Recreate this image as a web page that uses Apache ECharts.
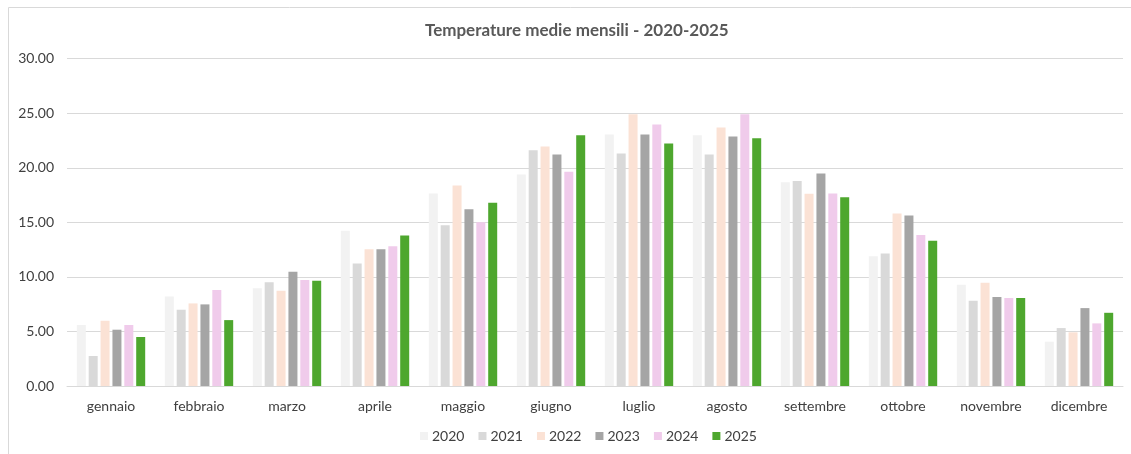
<!DOCTYPE html>
<html>
<head>
<meta charset="utf-8">
<script src="https://cdn.jsdelivr.net/npm/echarts@6/dist/echarts.min.js"></script>
<style>html,body{margin:0;padding:0;background:#fff;}#c{width:1131px;height:454px;}</style>
</head>
<body>
<div id="c"></div>
<script>
const months = ['gennaio','febbraio','marzo','aprile','maggio','giugno','luglio','agosto','settembre','ottobre','novembre','dicembre'];
const years = ['2020','2021','2022','2023','2024','2025'];
const y2020 = [5.59, 8.21, 8.97, 14.22, 17.64, 19.38, 23.05, 22.99, 18.68, 11.90, 9.28, 4.06];
const y2021 = [2.75, 6.99, 9.52, 11.23, 14.74, 21.61, 21.31, 21.22, 18.80, 12.15, 7.81, 5.31];
const y2022 = [5.98, 7.57, 8.73, 12.54, 18.38, 21.95, 24.90, 23.69, 17.61, 15.81, 9.46, 4.92];
const y2023 = [5.16, 7.48, 10.47, 12.54, 16.21, 21.22, 23.05, 22.86, 19.48, 15.63, 8.15, 7.14];
const y2024 = [5.59, 8.79, 9.71, 12.82, 15.02, 19.63, 23.96, 24.90, 17.64, 13.83, 8.06, 5.74];
const y2025 = [4.49, 6.04, 9.65, 13.80, 16.79, 22.99, 22.22, 22.71, 17.31, 13.31, 8.06, 6.71];
const seriesData = [y2020, y2021, y2022, y2023, y2024, y2025];
const colors = ['#f2f2f2', '#d9d9d9', '#fbe2d5', '#a5a5a5', '#f0cbeb', '#4ea72e'];
const FONT = 'Lato, "Liberation Sans", sans-serif';

const chart = echarts.init(document.getElementById('c'), null, {renderer: 'canvas'});
chart.setOption({
  animation: false,
  color: colors,
  textStyle: {fontFamily: FONT},
  graphic: [{
    type: 'rect', left: 8, top: 7, z: -10, silent: true,
    shape: {width: 1140, height: 460},
    style: {fill: 'transparent', stroke: '#d9d9d9', lineWidth: 1}
  }],
  title: {
    text: 'Temperature medie mensili - 2020-2025',
    left: 420, top: 17,
    textStyle: {fontFamily: FONT, fontSize: 17, fontWeight: 'bold', color: '#595959'}
  },
  legend: {
    bottom: 6, left: 415,
    itemWidth: 8, itemHeight: 8, itemGap: 14,
    icon: 'rect',
    textStyle: {fontFamily: FONT, fontSize: 14, color: '#404040', padding: [0, 0, 0, -1]},
    data: years
  },
  grid: {left: 67, right: 8, top: 58.7, bottom: 68, containLabel: false},
  xAxis: {
    type: 'category', data: months,
    axisLine: {lineStyle: {color: '#d9d9d9'}},
    axisTick: {show: false},
    axisLabel: {fontFamily: FONT, fontSize: 14, color: '#404040', margin: 13}
  },
  yAxis: {
    type: 'value', min: 0, max: 30, interval: 5,
    axisLine: {show: false}, axisTick: {show: false},
    splitLine: {lineStyle: {color: '#d9d9d9'}},
    axisLabel: {fontFamily: FONT, fontSize: 14, color: '#404040', margin: 13,
      formatter: v => v.toFixed(2)}
  },
  series: years.map((y, i) => ({
    name: y, type: 'bar', data: seriesData[i],
    barWidth: 9, barGap: '32%',
    itemStyle: {color: colors[i]}
  }))
});
</script>
</body>
</html>
